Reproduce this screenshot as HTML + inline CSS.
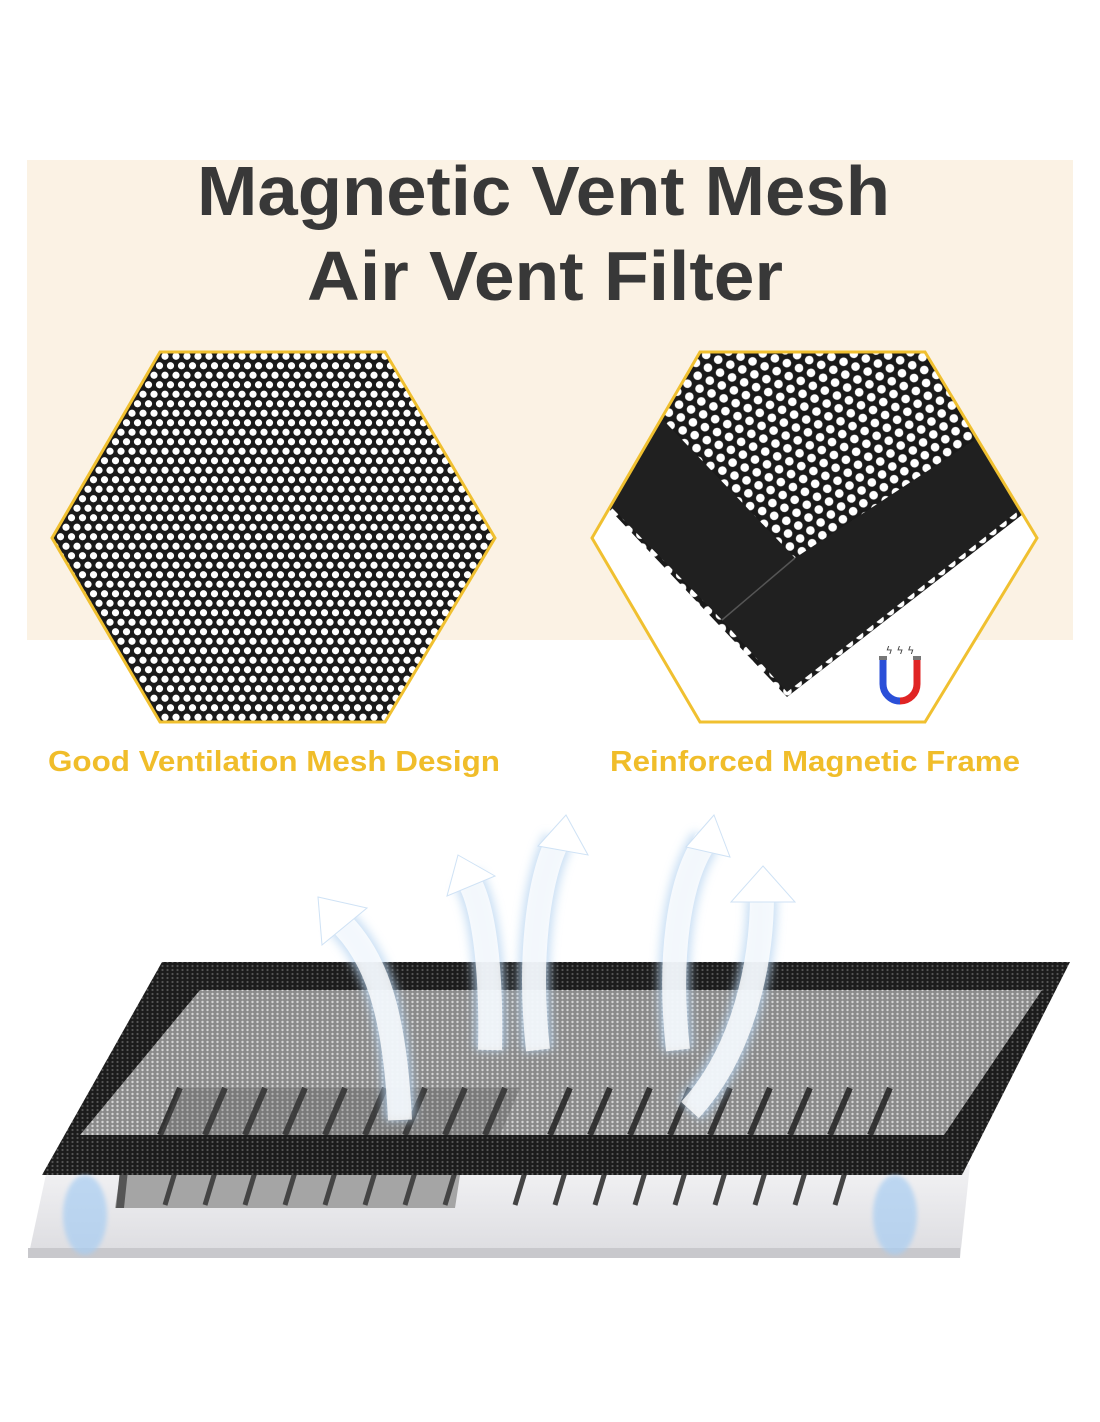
<!DOCTYPE html>
<html><head><meta charset="utf-8"><style>
html,body{margin:0;padding:0;background:#fff;width:1100px;height:1422px;overflow:hidden}
svg{display:block}
</style></head><body>
<svg width="1100" height="1422" viewBox="0 0 1100 1422" xmlns="http://www.w3.org/2000/svg">
<defs>
<pattern id="dots" width="11" height="19" patternUnits="userSpaceOnUse">
<rect width="11" height="19" fill="#1a1a1a"/>
<circle cx="5.5" cy="4.75" r="3.6" fill="#fff"/><circle cx="0" cy="14.25" r="3.6" fill="#fff"/><circle cx="11" cy="14.25" r="3.6" fill="#fff"/>
</pattern>
<pattern id="dots2" width="13" height="22.5" patternUnits="userSpaceOnUse" patternTransform="rotate(-38)">
<rect width="13" height="22.5" fill="#1a1a1a"/>
<circle cx="6.5" cy="5.6" r="4.3" fill="#fff"/><circle cx="0" cy="16.9" r="4.3" fill="#fff"/><circle cx="13" cy="16.9" r="4.3" fill="#fff"/>
</pattern>
<pattern id="fine" width="5" height="4" patternUnits="userSpaceOnUse">
<rect width="5" height="4" fill="#1c1c1c"/><circle cx="2.5" cy="2" r="1.1" fill="#555"/>
</pattern>
<pattern id="fineg" width="5" height="4" patternUnits="userSpaceOnUse">
<rect width="5" height="4" fill="#8a8a8a"/><circle cx="2.5" cy="2" r="1.2" fill="#d4d4d4"/>
</pattern>
<clipPath id="hexR"><polygon points="592,538 700,352 925,352 1037,538 925,722 700,722"/></clipPath>
<clipPath id="inner"><polygon points="200,990 1042,990 944,1135 80,1135"/></clipPath>
<filter id="glow" x="-50%" y="-50%" width="200%" height="200%"><feGaussianBlur stdDeviation="5"/></filter>
<filter id="blur2"><feGaussianBlur stdDeviation="2"/></filter>
<linearGradient id="base" x1="0" y1="0" x2="0" y2="1"><stop offset="0" stop-color="#f2f2f4"/><stop offset="1" stop-color="#dcdce0"/></linearGradient>
</defs>

<rect x="27" y="160" width="1046" height="480" fill="#fbf2e4"/>
<text x="197" y="215" textLength="693" lengthAdjust="spacingAndGlyphs" font-family="Liberation Sans, sans-serif" font-weight="bold" font-size="70" fill="#383838">Magnetic Vent Mesh</text>
<text x="307" y="300" textLength="476" lengthAdjust="spacingAndGlyphs" font-family="Liberation Sans, sans-serif" font-weight="bold" font-size="70" fill="#383838">Air Vent Filter</text>

<!-- left hex -->
<polygon points="52,538 160,352 385,352 495,538 385,722 160,722" fill="url(#dots)" stroke="#f0c030" stroke-width="3"/>

<!-- right hex -->
<g clip-path="url(#hexR)">
<rect x="580" y="340" width="470" height="400" fill="#fff"/>
<polygon points="787,697 1045,497 1045,340 580,340 560,460 612,512" fill="url(#dots2)"/>
<polygon points="560,455 628,383 795,558 722,620" fill="#202020"/>
<polygon points="722,620 795,558 1005,420 1045,400 1045,490 787,692" fill="#202020"/>
<line x1="795" y1="558" x2="722" y2="620" stroke="#555" stroke-width="1.5"/>
</g>
<polygon points="592,538 700,352 925,352 1037,538 925,722 700,722" fill="none" stroke="#f0c030" stroke-width="3"/>
<!-- magnet -->
<path d="M883,660 L883,684 A17,17 0 0 0 900,701" fill="none" stroke="#2a4fd8" stroke-width="7"/>
<path d="M917,660 L917,684 A17,17 0 0 1 900,701" fill="none" stroke="#e02424" stroke-width="7"/>
<rect x="879" y="656" width="8" height="4" fill="#777"/><rect x="913" y="656" width="8" height="4" fill="#777"/>
<text x="900" y="654" text-anchor="middle" font-family="DejaVu Sans, sans-serif" font-size="11" fill="#444">ϟ ϟ ϟ</text>

<text x="48" y="771" textLength="452" lengthAdjust="spacingAndGlyphs" font-family="Liberation Sans, sans-serif" font-weight="bold" font-size="29" fill="#f0bd2a">Good Ventilation Mesh Design</text>
<text x="610" y="771" textLength="410" lengthAdjust="spacingAndGlyphs" font-family="Liberation Sans, sans-serif" font-weight="bold" font-size="29" fill="#f0bd2a">Reinforced Magnetic Frame</text>

<!-- vent base -->
<polygon points="48,1165 970,1165 960,1258 28,1258" fill="url(#base)"/>
<polygon points="28,1248 960,1248 960,1258 28,1258" fill="#c8c8cc"/>
<polygon points="120,1175 460,1175 455,1208 115,1208" fill="#a5a5a5"/>
<polygon points="120,1170 128,1170 124,1208 116,1208" fill="#555"/>
<g stroke="#444" stroke-width="5">
<line x1="175" y1="1172" x2="165" y2="1205"/><line x1="215" y1="1172" x2="205" y2="1205"/><line x1="255" y1="1172" x2="245" y2="1205"/><line x1="295" y1="1172" x2="285" y2="1205"/><line x1="335" y1="1172" x2="325" y2="1205"/><line x1="375" y1="1172" x2="365" y2="1205"/><line x1="415" y1="1172" x2="405" y2="1205"/><line x1="455" y1="1172" x2="445" y2="1205"/>
<line x1="525" y1="1172" x2="515" y2="1205"/><line x1="565" y1="1172" x2="555" y2="1205"/><line x1="605" y1="1172" x2="595" y2="1205"/><line x1="645" y1="1172" x2="635" y2="1205"/><line x1="685" y1="1172" x2="675" y2="1205"/><line x1="725" y1="1172" x2="715" y2="1205"/><line x1="765" y1="1172" x2="755" y2="1205"/><line x1="805" y1="1172" x2="795" y2="1205"/><line x1="845" y1="1172" x2="835" y2="1205"/>
</g>

<!-- mesh -->
<polygon points="162,962 1070,962 962,1175 42,1175" fill="url(#fine)"/>
<polygon points="200,990 1042,990 944,1135 80,1135" fill="url(#fineg)"/>
<g clip-path="url(#inner)" stroke="#222" stroke-width="6" opacity="0.85">
<line x1="180" y1="1088" x2="160" y2="1135"/><line x1="225" y1="1088" x2="205" y2="1135"/><line x1="265" y1="1088" x2="245" y2="1135"/><line x1="305" y1="1088" x2="285" y2="1135"/><line x1="345" y1="1088" x2="325" y2="1135"/><line x1="385" y1="1088" x2="365" y2="1135"/><line x1="425" y1="1088" x2="405" y2="1135"/><line x1="465" y1="1088" x2="445" y2="1135"/><line x1="505" y1="1088" x2="485" y2="1135"/>
<line x1="570" y1="1088" x2="550" y2="1135"/><line x1="610" y1="1088" x2="590" y2="1135"/><line x1="650" y1="1088" x2="630" y2="1135"/><line x1="690" y1="1088" x2="670" y2="1135"/><line x1="730" y1="1088" x2="710" y2="1135"/><line x1="770" y1="1088" x2="750" y2="1135"/><line x1="810" y1="1088" x2="790" y2="1135"/><line x1="850" y1="1088" x2="830" y2="1135"/><line x1="890" y1="1088" x2="870" y2="1135"/>
</g>
<g clip-path="url(#inner)"><polygon points="180,1088 520,1088 500,1135 160,1135" fill="#555" opacity="0.3"/></g>

<!-- arrows -->
<g>
<g filter="url(#glow)" stroke="#b5d3f0" fill="none" stroke-width="30" opacity="0.8">
<path d="M400,1120 C395,1010 375,955 338,920"/>
<path d="M490,1050 C492,960 482,900 467,878"/>
<path d="M538,1050 C528,960 538,880 558,840"/>
<path d="M678,1050 C668,960 678,880 706,840"/>
<path d="M690,1110 C745,1050 762,960 762,895"/>
</g>
<g stroke="#fff" fill="none" stroke-width="24" opacity="0.8">
<path d="M400,1120 C395,1010 375,955 338,920"/>
<path d="M490,1050 C492,960 482,900 467,878"/>
<path d="M538,1050 C528,960 538,880 558,840"/>
<path d="M678,1050 C668,960 678,880 706,840"/>
<path d="M690,1110 C745,1050 762,960 762,895"/>
</g>
<g fill="#fff" stroke="#cfe2f5" stroke-width="1">
<polygon points="318,897 367,908 322,945"/>
<polygon points="458,855 495,876 447,896"/>
<polygon points="566,815 588,855 538,846"/>
<polygon points="714,815 730,857 686,847"/>
<polygon points="763,866 795,902 731,902"/>
</g>
</g>
<!-- sparks -->
<g filter="url(#blur2)" fill="#a8cdf2" opacity="0.7">
<ellipse cx="85" cy="1215" rx="22" ry="40"/>
<ellipse cx="895" cy="1215" rx="22" ry="40"/>
</g>
</svg>
</body></html>
